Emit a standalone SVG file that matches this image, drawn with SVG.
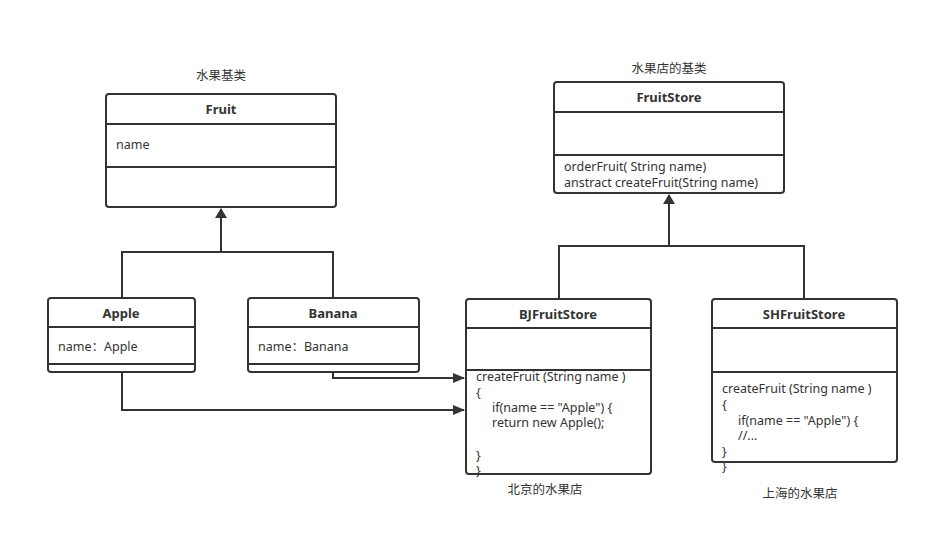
<svg xmlns="http://www.w3.org/2000/svg" width="929" height="545" viewBox="0 0 929 545">
<style>
.b{fill:#fff;stroke:#333;stroke-width:2}
.d{stroke:#333;stroke-width:2}
text{font-family:"Noto Sans","Noto Sans CJK SC",sans-serif;font-size:12.5px;fill:#333}
.t{font-weight:bold;text-anchor:middle;font-size:13px}
.c{stroke:#333;stroke-width:2;fill:none}
</style>
<defs>
<marker id="tri" markerWidth="10" markerHeight="12" refX="9" refY="6" orient="auto" markerUnits="userSpaceOnUse"><path d="M0,0L10,6L0,12Z" fill="#333"/></marker>
<marker id="ar" markerWidth="12" markerHeight="10" refX="11" refY="5" orient="auto" markerUnits="userSpaceOnUse"><path d="M0,0L12,5L0,10Z" fill="#333"/></marker>
</defs>
<g id="connectors">
<path class="c" d="M122,298V252H333V298M221,252V209" marker-end="url(#tri)"/>
<path class="c" d="M559,299V246H804V299M669,246V195" marker-end="url(#tri)"/>
<path class="c" d="M333,372V378H464" marker-end="url(#ar)"/>
<path class="c" d="M122,372V410H464" marker-end="url(#ar)"/>
</g>
<g id="fruit"><rect class="b" x="106" y="94" width="230" height="113" rx="3"/><path class="d" d="M106,124H336M106,167H336"/><text x="221" y="114" class="t">Fruit</text><text x="116" y="149">name</text><text x="221" y="80" text-anchor="middle">水果基类</text></g>
<g id="apple"><rect class="b" x="48" y="298" width="147" height="74" rx="3"/><path class="d" d="M48,327H195M48,364H195"/><text x="121" y="318" class="t">Apple</text><text x="58" y="351">name：Apple</text></g>
<g id="banana"><rect class="b" x="248" y="298" width="171" height="74" rx="3"/><path class="d" d="M248,327H419M248,364H419"/><text x="333" y="318" class="t">Banana</text><text x="258" y="351">name：Banana</text></g>
<g id="fruitstore"><rect class="b" x="554" y="82" width="230" height="111" rx="3"/><path class="d" d="M554,112H784M554,155H784"/><text x="669" y="102" class="t">FruitStore</text><text x="564" y="171">orderFruit( String  name)</text><text x="564" y="187">anstract createFruit(String name)</text><text x="669" y="73" text-anchor="middle">水果店的基类</text></g>
<g id="bj"><rect class="b" x="466" y="299" width="185" height="175" rx="3"/><path class="d" d="M466,328H651M466,370H651"/><text x="558" y="319" class="t">BJFruitStore</text>
<text x="476" y="381">createFruit (String name )</text><text x="476" y="397">{</text><text x="492" y="412">if(name == "Apple") {</text><text x="492" y="427">return new Apple();</text><text x="476" y="460">}</text><text x="476" y="475">}</text><text x="545" y="494" text-anchor="middle">北京的水果店</text></g>
<g id="sh"><rect class="b" x="712" y="299" width="185" height="163" rx="3"/><path class="d" d="M712,328H897M712,372H897"/><text x="804" y="319" class="t">SHFruitStore</text>
<text x="722" y="393">createFruit (String name )</text><text x="722" y="409">{</text><text x="738" y="425">if(name == "Apple") {</text><text x="738" y="440">//...</text><text x="722" y="456">}</text><text x="722" y="471">}</text><text x="800" y="498" text-anchor="middle">上海的水果店</text></g>
</svg>
